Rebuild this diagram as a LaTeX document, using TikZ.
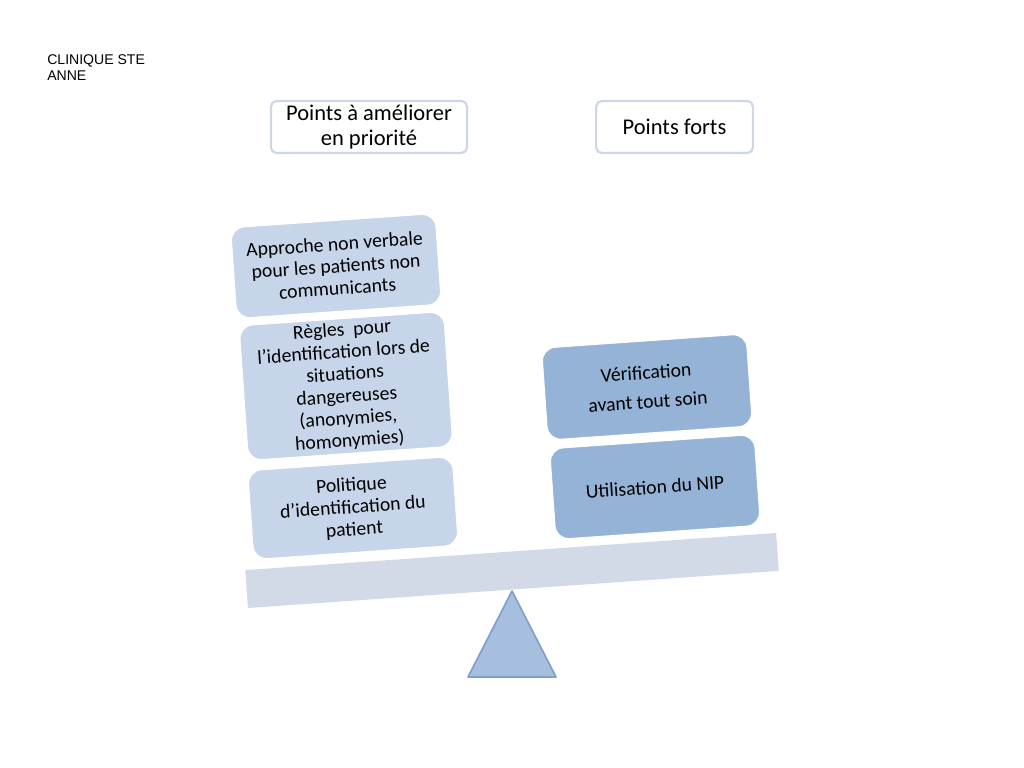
\documentclass[tikz,border=0pt]{standalone}
\usepackage{fontspec}
\setmainfont{Carlito}
\newfontfamily\arialfont{Liberation Sans}
\usetikzlibrary{positioning}

\definecolor{palebox}{HTML}{C6D5EA}
\definecolor{strongbox}{HTML}{95B3D7}
\definecolor{beamcol}{HTML}{D2DAE8}
\definecolor{pivotfill}{HTML}{A7BFDE}
\definecolor{pivotline}{HTML}{7F9FCF}
\definecolor{headline}{HTML}{CDD5E6}

\begin{document}
\begin{tikzpicture}[x=0.025cm, y=-0.025cm,
    card/.style={rectangle, rounded corners=10pt, draw=white, line width=1.5pt,
        align=center, inner sep=0pt, rotate=4, minimum width=5.15cm,
        font=\fontsize{14}{15.8}\selectfont},
    head/.style={rectangle, rounded corners=4pt, draw=headline, line width=1.5pt,
        fill=white, align=center, inner sep=0pt,
        font=\fontsize{16}{17.7}\selectfont}]

    \useasboundingbox (0,0) rectangle (1024,768);

    % Title
    \node[anchor=north west, align=left, inner sep=0pt,
        font=\arialfont\fontsize{10}{12}\selectfont] (title) at (47,54) {CLINIQUE STE\\ANNE};

    % Column headers
    \node[head, minimum width=4.9cm, minimum height=1.3cm] (weak) at (369,127) {Points à améliorer\\en priorité};
    \node[head, minimum width=3.92cm, minimum height=1.3cm] (strong) at (674.5,127) {Points forts};

    % Beam and pivot
    \node[rectangle, fill=beamcol, rotate=4, minimum width=13.3cm, minimum height=0.95cm,
        inner sep=0pt] (beam) at (512,570.5) {};
    \coordinate (apex) at (512,591);
    \draw[pivotline, fill=pivotfill, line width=1.2pt, line join=round]
        (apex) -- (468,677) -- (556,677) -- cycle;

    % Left pan: points to improve
    \foreach \name/\x/\y/\h/\txt in {
        nonverbal/336/266/2.3/{Approche non verbale\\pour les patients non\\communicants},
        rules/346/386/3.4/{Règles~ pour\\l’identification lors de\\situations\\dangereuses\\(anonymies,\\homonymies)},
        policy/353/508/2.25/{Politique\\d’identification du\\patient}} {
        \node[card, fill=palebox, minimum height=\h cm] (\name) at (\x,\y) {\txt};
    }

    % Right pan: strong points
    \node[card, fill=strongbox, minimum height=2.33cm] (check) at (647,387)
        {Vérification\\[5pt]avant tout soin};
    \node[card, fill=strongbox, minimum height=2.3cm] (nip) at (655,487)
        {Utilisation du NIP};

\end{tikzpicture}
\end{document}
